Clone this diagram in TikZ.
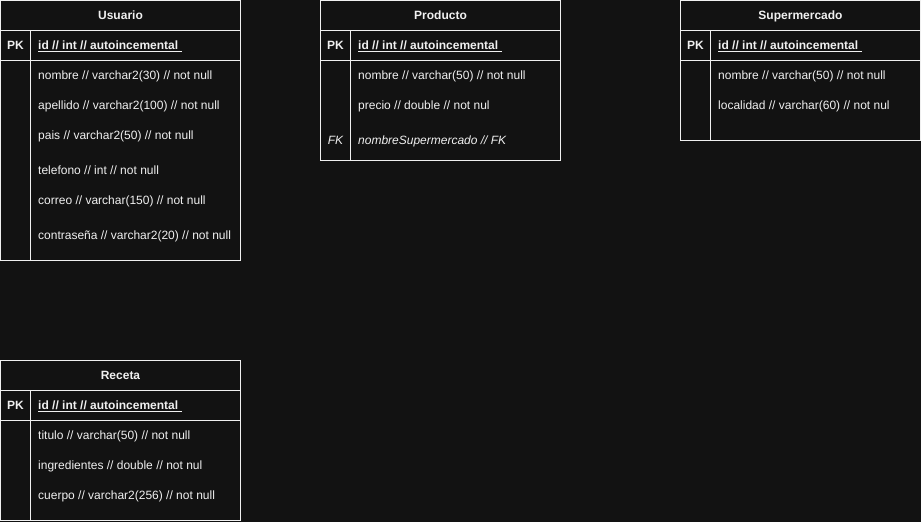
\documentclass[tikz,border=0pt]{standalone}
\usepackage{fontspec}
\setmainfont{Liberation Sans}
\definecolor{bgc}{HTML}{121212}
\definecolor{fgc}{HTML}{F0F0F0}
\begin{document}
\begin{tikzpicture}[x=1pt,y=-1pt,
  tline/.style={draw=fgc,line width=1pt},
  hdr/.style={text=fgc,font=\fontsize{12}{14}\selectfont\bfseries,inner sep=0pt,anchor=base},
  fld/.style={text=fgc,font=\fontsize{12}{14}\selectfont,inner sep=0pt,anchor=base west},
  idfld/.style={fld,font=\fontsize{12}{14}\selectfont\bfseries},
  keyc/.style={text=fgc,font=\fontsize{12}{14}\selectfont\bfseries,inner sep=0pt,anchor=base}]
\fill[bgc] (0,0) rectangle (921,522);
\useasboundingbox (0,0) rectangle (921,522);

% Usuario
\draw[tline] (0.5,0.5) rectangle (240.5,260.5);
\draw[tline] (0.5,30.5) -- (240.5,30.5);
\draw[tline] (0.5,60.5) -- (240.5,60.5);
\draw[tline] (30.5,30.5) -- (30.5,260.5);
\node[hdr] (uT) at (120.5,19.3) {Usuario};
\node[keyc] (uPK) at (15.5,49.3) {PK};
\node[idfld] (uid) at (38,49.3) {\underline{id // int // autoincemental\ }};
\node[fld] (u1) at (38,79.3) {nombre // varchar2(30) // not null};
\node[fld] (u2) at (38,109.3) {apellido // varchar2(100) // not null};
\node[fld] (u3) at (38,139.3) {pais // varchar2(50) // not null};
\node[fld] (u4) at (38,174.3) {telefono // int // not null};
\node[fld] (u5) at (38,204.3) {correo // varchar(150) // not null};
\node[fld] (u6) at (38,239.3) {contraseña // varchar2(20) // not null};

% Producto
\draw[tline] (320.5,0.5) rectangle (560.5,160.5);
\draw[tline] (320.5,30.5) -- (560.5,30.5);
\draw[tline] (320.5,60.5) -- (560.5,60.5);
\draw[tline] (350.5,30.5) -- (350.5,160.5);
\node[hdr] (pT) at (440.5,19.3) {Producto};
\node[keyc] (pPK) at (335.5,49.3) {PK};
\node[idfld] (pid) at (358,49.3) {\underline{id // int // autoincemental\ }};
\node[fld] (p1) at (358,79.3) {nombre // varchar(50) // not null};
\node[fld] (p2) at (358,109.3) {precio // double // not nul};
\node[keyc,font=\fontsize{12}{14}\selectfont\itshape] (pFK) at (335.5,144.3) {FK};
\node[fld,font=\fontsize{12}{14}\selectfont\itshape] (p3) at (358,144.3) {nombreSupermercado // FK};

% Supermercado
\draw[tline] (680.5,0.5) rectangle (920.5,140.5);
\draw[tline] (680.5,30.5) -- (920.5,30.5);
\draw[tline] (680.5,60.5) -- (920.5,60.5);
\draw[tline] (710.5,30.5) -- (710.5,140.5);
\node[hdr] (sT) at (800.5,19.3) {Supermercado};
\node[keyc] (sPK) at (695.5,49.3) {PK};
\node[idfld] (sid) at (718,49.3) {\underline{id // int // autoincemental\ }};
\node[fld] (s1) at (718,79.3) {nombre // varchar(50) // not null};
\node[fld] (s2) at (718,109.3) {localidad // varchar(60) // not nul};

% Receta
\draw[tline] (0.5,360.5) rectangle (240.5,520.5);
\draw[tline] (0.5,390.5) -- (240.5,390.5);
\draw[tline] (0.5,420.5) -- (240.5,420.5);
\draw[tline] (30.5,390.5) -- (30.5,520.5);
\node[hdr] (rT) at (120.5,379.3) {Receta};
\node[keyc] (rPK) at (15.5,409.3) {PK};
\node[idfld] (rid) at (38,409.3) {\underline{id // int // autoincemental\ }};
\node[fld] (r1) at (38,439.3) {titulo // varchar(50) // not null};
\node[fld] (r2) at (38,469.3) {ingredientes // double // not nul};
\node[fld] (r3) at (38,499.3) {cuerpo // varchar2(256) // not null};
\end{tikzpicture}
\end{document}
